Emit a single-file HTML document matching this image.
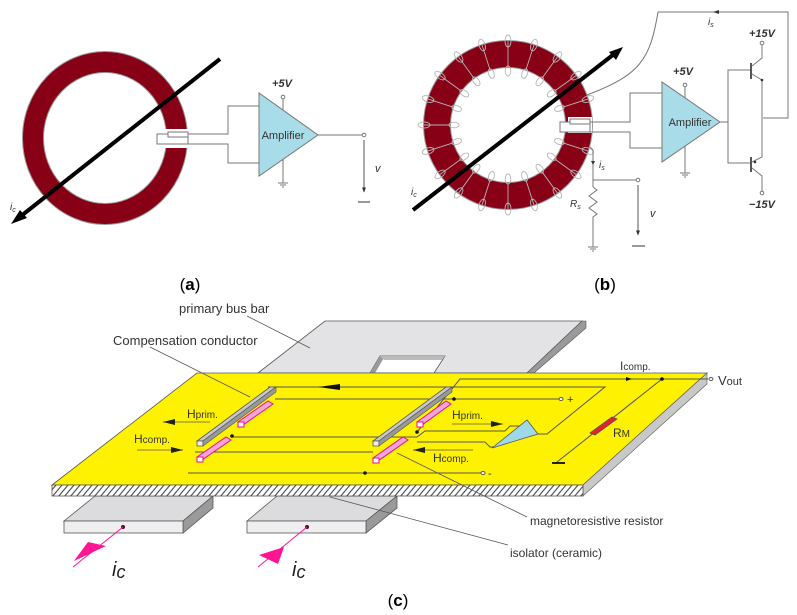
<!DOCTYPE html>
<html><head><meta charset="utf-8"><style>
html,body{margin:0;padding:0;background:#fff;}
svg{display:block;}
text{font-family:"Liberation Sans",sans-serif;}
</style></head><body>
<svg width="797" height="615" viewBox="0 0 797 615" xmlns="http://www.w3.org/2000/svg">
<defs>
<pattern id="hatch" width="6" height="10" patternUnits="userSpaceOnUse" patternTransform="skewX(-40)">
<rect width="6" height="10" fill="#fff"/><line x1="1" y1="0" x2="1" y2="10" stroke="#333" stroke-width="1.3"/>
</pattern>
<marker id="ahs" viewBox="0 0 10 10" refX="9" refY="5" markerWidth="5" markerHeight="5" orient="auto"><path d="M0,1 L10,5 L0,9 Z" fill="#333"/></marker>
</defs>

<!-- ===== Panel (a) ===== -->
<ellipse cx="105" cy="138" rx="72" ry="76" fill="none" stroke="#999" stroke-width="22"/>
<ellipse cx="105" cy="138" rx="72" ry="76" fill="none" stroke="#870016" stroke-width="20"/>
<rect x="164" y="129" width="26" height="19" fill="#fff"/>
<rect x="157" y="134" width="31" height="10" fill="#fff" stroke="#777" stroke-width="1"/>
<rect x="168" y="132" width="20" height="5" fill="#fff" stroke="#777" stroke-width="1"/>
<polyline points="188,134 228,134 228,106 259,106" fill="none" stroke="#777" stroke-width="1"/>
<polyline points="188,144 228,144 228,163 259,163" fill="none" stroke="#777" stroke-width="1"/>
<line x1="283" y1="97" x2="283" y2="183" stroke="#777" stroke-width="1"/>
<polygon points="259,93 259,176 318,135" fill="#a8dce9" stroke="#777" stroke-width="1"/>
<text x="283" y="139" font-size="11" fill="#333" text-anchor="middle">Amplifier</text>
<text x="282" y="87" font-size="11" font-style="italic" font-weight="bold" fill="#333" text-anchor="middle">+5V</text>
<circle cx="283" cy="97" r="1.8" fill="#fff" stroke="#777"/>
<line x1="278" y1="183" x2="288" y2="183" stroke="#777"/><line x1="280" y1="185" x2="286" y2="185" stroke="#777"/><line x1="282" y1="187" x2="284" y2="187" stroke="#777"/>
<line x1="318" y1="135" x2="362" y2="135" stroke="#777" stroke-width="1"/>
<circle cx="364" cy="135" r="1.8" fill="#fff" stroke="#777"/>
<line x1="364" y1="140" x2="364" y2="192" stroke="#555" stroke-width="1" marker-end="url(#ahs)"/>
<text x="375" y="172" font-size="11" font-style="italic" fill="#333">v</text>
<line x1="358" y1="202" x2="370" y2="202" stroke="#555" stroke-width="1.2"/>
<line x1="220" y1="59" x2="16" y2="220" stroke="#000" stroke-width="4"/>
<polygon points="11,224 20,210 27,218" fill="#000"/>
<text x="10" y="210" font-size="10" font-style="italic" fill="#333">i<tspan font-size="7" dy="2">c</tspan></text>
<text x="190" y="290" font-size="17" font-family="Liberation Serif" text-anchor="middle">(<tspan font-weight="bold">a</tspan>)</text>

<!-- ===== Panel (b) ===== -->
<circle cx="508" cy="125" r="71" fill="none" stroke="#999" stroke-width="28"/>
<circle cx="508" cy="125" r="71" fill="none" stroke="#870016" stroke-width="26"/>
<g stroke="#b5b5b5" stroke-width="0.9" fill="none">
<g transform="rotate(18 508 125)"><line x1="566" y1="125" x2="592" y2="125"/><ellipse cx="592" cy="125" rx="6" ry="3"/><ellipse cx="562" cy="125" rx="5" ry="2.8"/></g>
<g transform="rotate(36 508 125)"><line x1="566" y1="125" x2="592" y2="125"/><ellipse cx="592" cy="125" rx="6" ry="3"/><ellipse cx="562" cy="125" rx="5" ry="2.8"/></g>
<g transform="rotate(54 508 125)"><line x1="566" y1="125" x2="592" y2="125"/><ellipse cx="592" cy="125" rx="6" ry="3"/><ellipse cx="562" cy="125" rx="5" ry="2.8"/></g>
<g transform="rotate(72 508 125)"><line x1="566" y1="125" x2="592" y2="125"/><ellipse cx="592" cy="125" rx="6" ry="3"/><ellipse cx="562" cy="125" rx="5" ry="2.8"/></g>
<g transform="rotate(90 508 125)"><line x1="566" y1="125" x2="592" y2="125"/><ellipse cx="592" cy="125" rx="6" ry="3"/><ellipse cx="562" cy="125" rx="5" ry="2.8"/></g>
<g transform="rotate(108 508 125)"><line x1="566" y1="125" x2="592" y2="125"/><ellipse cx="592" cy="125" rx="6" ry="3"/><ellipse cx="562" cy="125" rx="5" ry="2.8"/></g>
<g transform="rotate(126 508 125)"><line x1="566" y1="125" x2="592" y2="125"/><ellipse cx="592" cy="125" rx="6" ry="3"/><ellipse cx="562" cy="125" rx="5" ry="2.8"/></g>
<g transform="rotate(144 508 125)"><line x1="566" y1="125" x2="592" y2="125"/><ellipse cx="592" cy="125" rx="6" ry="3"/><ellipse cx="562" cy="125" rx="5" ry="2.8"/></g>
<g transform="rotate(162 508 125)"><line x1="566" y1="125" x2="592" y2="125"/><ellipse cx="592" cy="125" rx="6" ry="3"/><ellipse cx="562" cy="125" rx="5" ry="2.8"/></g>
<g transform="rotate(180 508 125)"><line x1="566" y1="125" x2="592" y2="125"/><ellipse cx="592" cy="125" rx="6" ry="3"/><ellipse cx="562" cy="125" rx="5" ry="2.8"/></g>
<g transform="rotate(198 508 125)"><line x1="566" y1="125" x2="592" y2="125"/><ellipse cx="592" cy="125" rx="6" ry="3"/><ellipse cx="562" cy="125" rx="5" ry="2.8"/></g>
<g transform="rotate(216 508 125)"><line x1="566" y1="125" x2="592" y2="125"/><ellipse cx="592" cy="125" rx="6" ry="3"/><ellipse cx="562" cy="125" rx="5" ry="2.8"/></g>
<g transform="rotate(234 508 125)"><line x1="566" y1="125" x2="592" y2="125"/><ellipse cx="592" cy="125" rx="6" ry="3"/><ellipse cx="562" cy="125" rx="5" ry="2.8"/></g>
<g transform="rotate(252 508 125)"><line x1="566" y1="125" x2="592" y2="125"/><ellipse cx="592" cy="125" rx="6" ry="3"/><ellipse cx="562" cy="125" rx="5" ry="2.8"/></g>
<g transform="rotate(270 508 125)"><line x1="566" y1="125" x2="592" y2="125"/><ellipse cx="592" cy="125" rx="6" ry="3"/><ellipse cx="562" cy="125" rx="5" ry="2.8"/></g>
<g transform="rotate(288 508 125)"><line x1="566" y1="125" x2="592" y2="125"/><ellipse cx="592" cy="125" rx="6" ry="3"/><ellipse cx="562" cy="125" rx="5" ry="2.8"/></g>
<g transform="rotate(306 508 125)"><line x1="566" y1="125" x2="592" y2="125"/><ellipse cx="592" cy="125" rx="6" ry="3"/><ellipse cx="562" cy="125" rx="5" ry="2.8"/></g>
<g transform="rotate(324 508 125)"><line x1="566" y1="125" x2="592" y2="125"/><ellipse cx="592" cy="125" rx="6" ry="3"/><ellipse cx="562" cy="125" rx="5" ry="2.8"/></g>
<g transform="rotate(342 508 125)"><line x1="566" y1="125" x2="592" y2="125"/><ellipse cx="592" cy="125" rx="6" ry="3"/><ellipse cx="562" cy="125" rx="5" ry="2.8"/></g>
</g>
<rect x="568" y="117" width="24" height="16" fill="#fff"/>
<rect x="560" y="122" width="30" height="10" fill="#fff" stroke="#777"/>
<rect x="570" y="119" width="20" height="5" fill="#fff" stroke="#777"/>
<path d="M587,95 C640,75 650,60 658,12 L788,12 L788,118 L763,118" fill="none" stroke="#777"/>
<polygon points="713,12 719,10 719,14" fill="#333"/>
<text x="708" y="25" font-size="10" font-style="italic" fill="#333">i<tspan font-size="7" dy="2">s</tspan></text>
<polyline points="590,122 630,122 630,93 662,93" fill="none" stroke="#777"/>
<polyline points="590,132 630,132 630,148 662,148" fill="none" stroke="#777"/>
<line x1="685" y1="85" x2="685" y2="173" stroke="#777"/>
<polygon points="662,82 662,162 720,122" fill="#a8dce9" stroke="#777"/>
<text x="690" y="126" font-size="11" fill="#333" text-anchor="middle">Amplifier</text>
<text x="683" y="75" font-size="11" font-style="italic" font-weight="bold" fill="#333" text-anchor="middle">+5V</text>
<circle cx="685" cy="85" r="1.8" fill="#fff" stroke="#777"/>
<line x1="680" y1="173" x2="690" y2="173" stroke="#777"/><line x1="682" y1="175" x2="688" y2="175" stroke="#777"/><line x1="684" y1="177" x2="686" y2="177" stroke="#777"/>
<line x1="720" y1="122" x2="728" y2="122" stroke="#777"/>
<polyline points="750,70 728,70 728,163 750,163" fill="none" stroke="#777"/>
<line x1="751" y1="63" x2="751" y2="79" stroke="#555" stroke-width="2"/>
<line x1="751" y1="157" x2="751" y2="172" stroke="#555" stroke-width="2"/>
<polyline points="762,43 762,58 752,66" fill="none" stroke="#777"/>
<polyline points="752,74 762,80 762,157 752,162" fill="none" stroke="#777"/>
<polyline points="752,168 762,176 762,193" fill="none" stroke="#777"/>
<circle cx="762" cy="80" r="1.3" fill="#333"/><circle cx="755" cy="162" r="1.3" fill="#333"/>
<circle cx="762" cy="43" r="1.8" fill="#fff" stroke="#777"/><circle cx="762" cy="193" r="1.8" fill="#fff" stroke="#777"/>
<text x="762" y="37" font-size="11" font-style="italic" font-weight="bold" fill="#333" text-anchor="middle">+15V</text>
<text x="762" y="208" font-size="11" font-style="italic" font-weight="bold" fill="#333" text-anchor="middle">−15V</text>
<polyline points="590,147 593,150 593,187" fill="none" stroke="#777"/>
<polygon points="591,161 595,161 593,165" fill="#333"/>
<text x="599" y="168" font-size="10" font-style="italic" fill="#333">i<tspan font-size="7" dy="2">s</tspan></text>
<line x1="593" y1="180" x2="636" y2="180" stroke="#777"/>
<circle cx="638" cy="180" r="1.8" fill="#fff" stroke="#777"/>
<polyline points="593,187 597,190 589,196 597,202 589,208 597,214 593,217 593,247" fill="none" stroke="#777"/>
<line x1="588" y1="247" x2="598" y2="247" stroke="#777"/><line x1="590" y1="249" x2="596" y2="249" stroke="#777"/><line x1="592" y1="251" x2="594" y2="251" stroke="#777"/>
<text x="570" y="207" font-size="10" font-style="italic" fill="#333">R<tspan font-size="7" dy="2">s</tspan></text>
<line x1="638" y1="185" x2="638" y2="235" stroke="#555" marker-end="url(#ahs)"/>
<text x="650" y="217" font-size="11" font-style="italic" fill="#333">v</text>
<line x1="632" y1="246" x2="645" y2="246" stroke="#555" stroke-width="1.2"/>
<line x1="413" y1="210" x2="618" y2="51" stroke="#000" stroke-width="4"/>
<polygon points="623,47 609,52 616,60" fill="#000"/>
<text x="411" y="195" font-size="10" font-style="italic" fill="#333">i<tspan font-size="7" dy="2">c</tspan></text>
<text x="605" y="290" font-size="17" font-family="Liberation Serif" text-anchor="middle">(<tspan font-weight="bold">b</tspan>)</text>

<!-- ===== Panel (c) ===== -->
<polygon points="325,321 582,321 527,373 258,373" fill="#e3e3e5" stroke="#555" stroke-width="0.8"/>
<polygon points="582,321 586,321 586,328 534,373 527,373" fill="#9a9a9a" stroke="#555" stroke-width="0.6"/>
<polygon points="380,356 445,356 434,373 370,373" fill="#fff" stroke="#555" stroke-width="0.8"/>
<polygon points="380,356 385,356 375,373 370,373" fill="#9a9a9a"/>
<polygon points="380,356 445,356 442,360 384,360" fill="#bbb"/>
<polygon points="64,521 95,496 213,496 183,521" fill="#dcdcde" stroke="#555" stroke-width="0.8"/>
<polygon points="183,521 213,496 213,508 183,533" fill="#9a9a9a" stroke="#555" stroke-width="0.8"/>
<rect x="64" y="521" width="119" height="12" fill="#efeff0" stroke="#555" stroke-width="0.8"/>
<polygon points="247,521 277,496 397,496 366,521" fill="#dcdcde" stroke="#555" stroke-width="0.8"/>
<polygon points="366,521 397,496 397,508 366,533" fill="#9a9a9a" stroke="#555" stroke-width="0.8"/>
<rect x="247" y="521" width="119" height="12" fill="#efeff0" stroke="#555" stroke-width="0.8"/>
<polygon points="197,373 707,373 583,485 52,485" fill="#fff200" stroke="#555" stroke-width="0.8"/>
<polygon points="583,485 707,373 707,384 583,496" fill="#c8c8c8" stroke="#555" stroke-width="0.6"/>
<rect x="52" y="485" width="531" height="11" fill="url(#hatch)" stroke="#555" stroke-width="0.8"/>
<g stroke="#555" stroke-width="0.8" fill="none">
<line x1="247" y1="316" x2="310" y2="348"/>
<line x1="150" y1="347" x2="250" y2="397"/>
<line x1="397" y1="453" x2="527" y2="517"/>
<line x1="330" y1="497" x2="508" y2="545"/>
</g>
<g stroke="#555" stroke-width="1" fill="none">
<polyline points="268,387 605,387 547,434 538,434"/>
<line x1="275" y1="399" x2="560" y2="399"/>
<polyline points="232,437 417,437 425,431 505,431 510,426 520,426"/>
<polyline points="417,442 485,442 490,447 496,447"/>
<line x1="195" y1="452" x2="373" y2="452"/>
<line x1="188" y1="473" x2="482" y2="473"/>
<polyline points="417,432 460,379 708,379"/>
<line x1="662" y1="379" x2="557" y2="462"/>
</g>
<polygon points="318,387 340,384 340,390" fill="#111"/>
<polygon points="632,379 626,377 626,381" fill="#111"/>
<circle cx="662" cy="379" r="1.8" fill="#111"/>
<circle cx="232" cy="436" r="1.8" fill="#111"/><circle cx="365" cy="473" r="1.8" fill="#111"/>
<circle cx="454" cy="399" r="1.8" fill="#111"/><circle cx="417" cy="432" r="1.8" fill="#111"/>
<line x1="552" y1="463" x2="565" y2="463" stroke="#222" stroke-width="2"/>
<ellipse cx="561" cy="399" rx="2" ry="1.5" fill="#fff" stroke="#555"/>
<ellipse cx="483" cy="473" rx="2" ry="1.5" fill="#fff" stroke="#555"/>
<ellipse cx="711" cy="379" rx="2" ry="1.5" fill="#fff" stroke="#555"/>
<text x="567" y="403" font-size="11" fill="#333">+</text>
<text x="488" y="477" font-size="11" fill="#333">-</text>
<polygon points="492,448 527,420 538,434" fill="#9fd8e8" stroke="#555" stroke-width="0.8"/>
<polygon points="590,433 612,417 617,419 595,435" fill="#e8202a" stroke="#555" stroke-width="0.8"/>
<polygon points="197,441 270,387 276,387 203,441" fill="#c8c8c8" stroke="#555" stroke-width="0.8"/>
<polygon points="197,441 203,441 203,446 197,446" fill="#eee" stroke="#555" stroke-width="0.8"/>
<polygon points="203,446 276,392 276,387 203,441" fill="#999" stroke="#555" stroke-width="0.6"/>
<polygon points="373,441 446,387 452,387 379,441" fill="#c8c8c8" stroke="#555" stroke-width="0.8"/>
<polygon points="373,441 379,441 379,446 373,446" fill="#eee" stroke="#555" stroke-width="0.8"/>
<polygon points="379,446 452,392 452,387 379,441" fill="#999" stroke="#555" stroke-width="0.6"/>
<g fill="#f2a6d6" stroke="#e0109a" stroke-width="1">
<polygon points="238,422 268,401 273,404 243,425"/><rect x="238" y="422" width="6" height="5" fill="#fff"/>
<polygon points="197,457 226,437 231,440 202,460"/><rect x="197" y="457" width="6" height="5" fill="#fff"/>
<polygon points="417,422 446,401 451,404 422,425"/><rect x="417" y="422" width="6" height="5" fill="#fff"/>
<polygon points="373,458 403,437 408,440 378,461"/><rect x="373" y="458" width="6" height="5" fill="#fff"/>
</g>
<g stroke="#555" stroke-width="0.8">
<line x1="163" y1="422" x2="210" y2="422"/><line x1="137" y1="450" x2="183" y2="450"/>
<line x1="452" y1="424" x2="503" y2="424"/><line x1="413" y1="450" x2="473" y2="450"/>
</g>
<polygon points="163,422 175,419 175,425" fill="#222"/>
<polygon points="183,450 171,447 171,453" fill="#222"/>
<polygon points="503,424 491,421 491,427" fill="#222"/>
<polygon points="413,450 425,447 425,453" fill="#222"/>
<g fill="#333" font-size="12">
<text x="187" y="418">H<tspan font-size="10">prim.</tspan></text>
<text x="134" y="443">H<tspan font-size="10">comp.</tspan></text>
<text x="452" y="419">H<tspan font-size="10">prim.</tspan></text>
<text x="433" y="462">H<tspan font-size="10">comp.</tspan></text>
<text x="620" y="370">I<tspan font-size="10">comp.</tspan></text>
<text x="718" y="385" font-size="13">V<tspan font-size="11">out</tspan></text>
<text x="613" y="437" font-size="12">R<tspan font-size="10">M</tspan></text>
<text x="179" y="313" font-size="13">primary bus bar</text>
<text x="113" y="345" font-size="13">Compensation conductor</text>
<text x="530" y="525" font-size="12">magnetoresistive resistor</text>
<text x="510" y="557" font-size="12">isolator (ceramic)</text>
</g>
<circle cx="123" cy="527" r="2" fill="#5a0030"/>
<circle cx="307" cy="527" r="2" fill="#5a0030"/>
<line x1="123" y1="527" x2="73" y2="567" stroke="#ff1493" stroke-width="1"/>
<polygon points="74,561 88,542 106,546" fill="#ff1493"/>
<line x1="307" y1="527" x2="258" y2="567" stroke="#ff1493" stroke-width="1"/>
<polygon points="284,547 259,555 278,564" fill="#ff1493"/>
<text x="112" y="576" font-size="20" font-style="italic" fill="#222">i<tspan font-size="18" dy="2">c</tspan></text>
<text x="292" y="576" font-size="20" font-style="italic" fill="#222">i<tspan font-size="18" dy="2">c</tspan></text>
<text x="398" y="606" font-size="17" font-family="Liberation Serif" text-anchor="middle">(<tspan font-weight="bold">c</tspan>)</text>
</svg>
</body></html>
